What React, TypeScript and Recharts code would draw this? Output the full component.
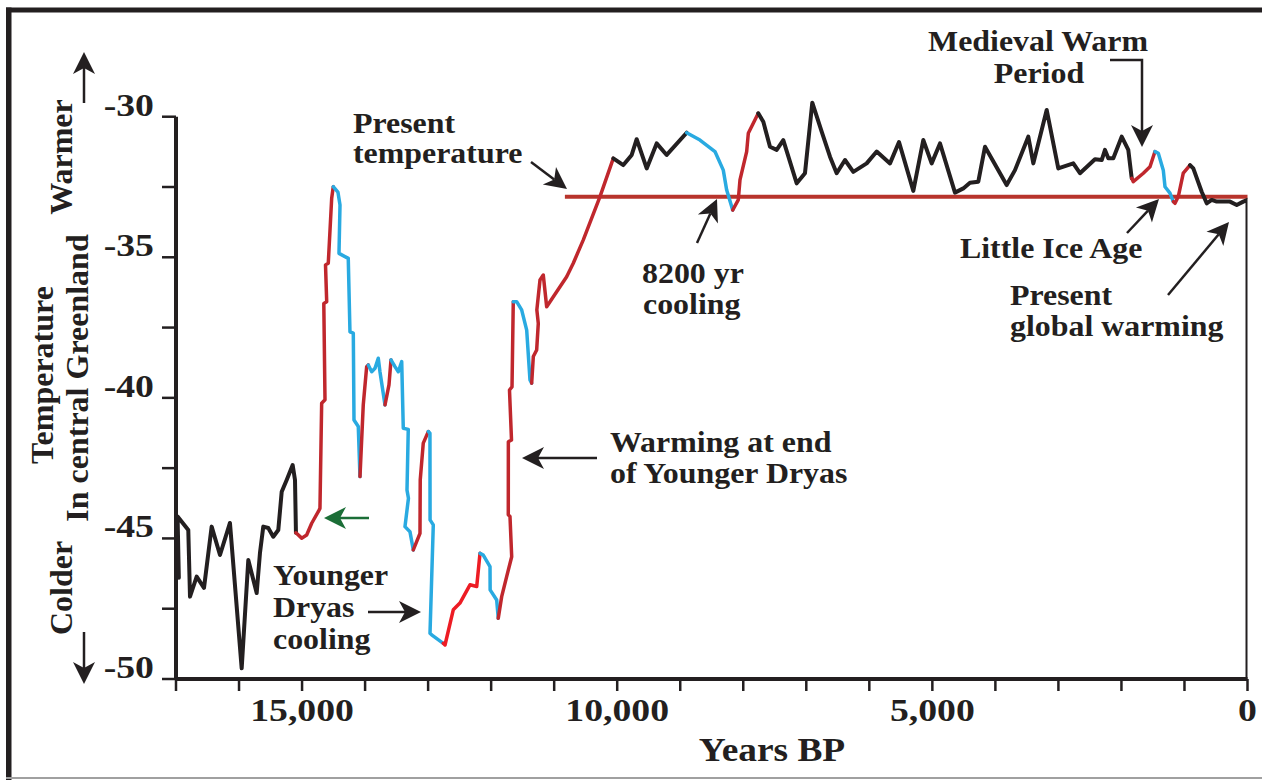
import React from 'react';
import { LineChart, Line, XAxis, YAxis, ReferenceLine } from 'recharts';

// ---------- data (years BP, temperature °C) ----------
const xTicks = [0, 1000, 2000, 3000, 4000, 5000, 6000, 7000, 8000, 9000, 10000, 11000, 12000, 13000, 14000, 15000, 16000, 17000];
const xLabelValues = [15000, 10000, 5000, 0];
const xLabelTexts = ['15,000', '10,000', '5,000', '0'];
const yTicks = [-50, -47.5, -45, -42.5, -40, -37.5, -35, -32.5, -30];
const yLabelValues = [-50, -45, -40, -35, -30];
const yLabelTexts = ['-50', '-45', '-40', '-35', '-30'];
const presentTemperature = -32.85;
const presentLineStart = 10830;

const black1: [number, number][] = [[16955, -46.4], [16975, -44.22], [16805, -44.7], [16778, -47.07], [16672, -46.36], [16556, -46.76], [16434, -44.58], [16302, -45.59], [16144, -44.45], [15958, -49.62], [15853, -45.77], [15720, -46.94], [15668, -45.52], [15615, -44.58], [15536, -44.63], [15457, -44.94], [15377, -44.7], [15323, -43.34], [15244, -42.92], [15149, -42.39], [15112, -42.92], [15097, -44.8]];
const red1: [number, number][] = [[15097, -44.8], [15006, -44.99], [14927, -44.88], [14847, -44.46], [14743, -44.05], [14716, -43.93], [14689, -40.19], [14636, -40.07], [14655, -36.64], [14609, -36.58], [14628, -35.27], [14584, -35.21], [14530, -32.9], [14505, -32.49]];
const blue1: [number, number][] = [[14505, -32.49], [14431, -32.68], [14398, -33.14], [14414, -34.86], [14267, -35.04], [14240, -37.65], [14187, -37.7], [14176, -40.79], [14108, -41.02], [14081, -42.8]];
const red2: [number, number][] = [[14081, -42.8], [14029, -40.25], [13975, -38.89], [13949, -38.83]];
const blue2: [number, number][] = [[13949, -38.83], [13895, -39.07], [13843, -38.95], [13791, -38.59], [13764, -39.07], [13684, -40.25]];
const red3: [number, number][] = [[13684, -40.25], [13621, -39.54], [13589, -38.65]];
const blue3: [number, number][] = [[13589, -38.65], [13526, -38.89], [13473, -39.07], [13419, -38.71], [13394, -41.08], [13315, -41.12], [13335, -43.28], [13312, -43.57], [13367, -44.58], [13288, -44.76], [13235, -45.41]];
const red4: [number, number][] = [[13235, -45.41], [13129, -44.82], [13125, -42.92], [13077, -41.61], [12997, -41.2]];
const blue4: [number, number][] = [[12997, -41.2], [12971, -41.26], [12969, -44.34], [12918, -44.52], [12970, -48.37], [12944, -48.43], [12760, -48.73]];
const brightRed1: [number, number][] = [[12760, -48.73], [12732, -48.79], [12601, -47.54], [12495, -47.3], [12336, -46.65], [12229, -46.71], [12177, -45.53]];
const blue5: [number, number][] = [[12177, -45.53], [12125, -45.59], [12018, -46.0], [12016, -46.83], [11912, -47.19], [11887, -47.84]];
const red5: [number, number][] = [[11887, -47.84], [11833, -47.07], [11754, -46.36], [11674, -45.65], [11701, -44.22], [11728, -44.16], [11727, -41.56], [11677, -41.5], [11709, -39.72], [11669, -39.61], [11649, -36.58]];
const blue6: [number, number][] = [[11649, -36.58], [11595, -36.58], [11516, -36.87], [11436, -37.59], [11384, -39.36], [11357, -39.48]];
const red6: [number, number][] = [[11357, -39.48], [11331, -38.53], [11278, -38.3], [11252, -37.35], [11275, -36.87], [11225, -35.81], [11173, -35.63], [11119, -36.76], [10802, -35.69], [10697, -35.21], [10538, -34.38], [10273, -32.84], [10062, -31.48]];
const black2: [number, number][] = [[10062, -31.48], [9903, -31.72], [9770, -31.36], [9691, -30.8], [9532, -31.84], [9374, -30.95], [9215, -31.36], [8898, -30.57]];
const blue7: [number, number][] = [[8898, -30.57], [8687, -30.83], [8449, -31.24], [8317, -31.9], [8263, -32.61], [8168, -33.32]];
const red7: [number, number][] = [[8168, -33.32], [8079, -32.96], [8052, -32.25], [7946, -31.24], [7920, -30.59], [7762, -29.88]];
const black3: [number, number][] = [[7762, -29.88], [7682, -30.18], [7576, -31.07], [7470, -31.18], [7365, -30.83], [7152, -32.37], [7021, -32.01], [6905, -29.5], [6756, -30.53], [6624, -31.42], [6518, -32.01], [6386, -31.54], [6254, -31.96], [6042, -31.66], [5883, -31.24], [5672, -31.66], [5529, -30.9], [5302, -32.64], [5144, -30.83], [5011, -31.66], [4879, -30.95], [4641, -32.7], [4509, -32.55], [4403, -32.35], [4271, -32.31], [4165, -31.07], [3821, -32.43], [3689, -31.9], [3478, -30.71], [3398, -31.66], [3186, -29.76], [3002, -31.84], [2764, -31.66], [2658, -32.01], [2420, -31.51], [2313, -31.54], [2261, -31.18], [2208, -31.48], [2129, -31.48], [1996, -30.71], [1891, -31.18], [1837, -32.19]];
const red8: [number, number][] = [[1837, -32.19], [1812, -32.31], [1653, -32.01], [1547, -31.78], [1468, -31.24]];
const blue8: [number, number][] = [[1468, -31.24], [1415, -31.3], [1336, -31.9], [1309, -32.49], [1230, -32.72], [1177, -33.02]];
const red9: [number, number][] = [[1177, -33.02], [1150, -33.08], [1098, -32.84], [1019, -32.01], [912, -31.72]];
const black4: [number, number][] = [[912, -31.72], [860, -31.84], [727, -32.67], [647, -33.08], [568, -32.96], [489, -33.02], [278, -33.02], [171, -33.14], [67, -33.02], [0, -32.96], [0, -50]];

// ---------- styles ----------
const INK = '#231f20';
const DARK_RED = '#c0272d';
const BLUE = '#29aae1';
const BRIGHT_RED = '#ed1c24';
const REF_RED = '#b8342c';
const GREEN = '#1b6e37';
const FONT = '"Liberation Serif", "Times New Roman", serif';

const toPts = (a: [number, number][]) => a.map(([year, temp]) => ({ year, temp }));

const segments = [
  { d: black1, c: INK, w: 4 },
  { d: red1, c: DARK_RED, w: 3.5 },
  { d: blue1, c: BLUE, w: 3.5 },
  { d: red2, c: DARK_RED, w: 3.5 },
  { d: blue2, c: BLUE, w: 3.5 },
  { d: red3, c: DARK_RED, w: 3.5 },
  { d: blue3, c: BLUE, w: 3.5 },
  { d: red4, c: DARK_RED, w: 3.5 },
  { d: blue4, c: BLUE, w: 3.5 },
  { d: brightRed1, c: BRIGHT_RED, w: 3.5 },
  { d: blue5, c: BLUE, w: 3.5 },
  { d: red5, c: DARK_RED, w: 3.5 },
  { d: blue6, c: BLUE, w: 3.5 },
  { d: red6, c: DARK_RED, w: 3.5 },
  { d: black2, c: INK, w: 4 },
  { d: blue7, c: BLUE, w: 3.5 },
  { d: red7, c: DARK_RED, w: 3.5 },
  { d: black3, c: INK, w: 4 },
  { d: red8, c: DARK_RED, w: 3.5 },
  { d: blue8, c: BLUE, w: 3.5 },
  { d: red9, c: DARK_RED, w: 3.5 },
  { d: black4, c: INK, w: 4 },
];

function XTick(props: any) {
  const { x, y, payload } = props;
  const i = xLabelValues.indexOf(payload.value);
  if (i < 0) return <g />;
  return (
    <text transform={`translate(${x},${y + 30}) scale(1.18,1)`} textAnchor="middle" fontFamily={FONT} fontWeight="bold" fontSize={32} fill={INK}>
      {xLabelTexts[i]}
    </text>
  );
}

function YTick(props: any) {
  const { x, y, payload } = props;
  const i = yLabelValues.indexOf(payload.value);
  if (i < 0) return <g />;
  return (
    <text transform={`translate(${x - 8},${y - 1}) scale(1.18,1)`} textAnchor="end" fontFamily={FONT} fontWeight="bold" fontSize={32} fill={INK}>
      {yLabelTexts[i]}
    </text>
  );
}

function Arrow({ pts, color = INK, w = 2.5, head = 22, half = 11, notch = 6 }: { pts: number[][]; color?: string; w?: number; head?: number; half?: number; notch?: number }) {
  const n = pts.length;
  const [x2, y2] = pts[n - 1];
  const [x1, y1] = pts[n - 2];
  const L = Math.hypot(x2 - x1, y2 - y1);
  const ux = (x2 - x1) / L, uy = (y2 - y1) / L;
  const nx = -uy, ny = ux;
  const bx = x2 - ux * head, by = y2 - uy * head;
  const kx = x2 - ux * (head - notch), ky = y2 - uy * (head - notch);
  const shaft = [...pts.slice(0, -1), [kx, ky]];
  return (
    <g>
      <polyline points={shaft.map((p) => p.join(',')).join(' ')} fill="none" stroke={color} strokeWidth={w} />
      <polygon points={`${x2},${y2} ${bx + nx * half},${by + ny * half} ${kx},${ky} ${bx - nx * half},${by - ny * half}`} fill={color} />
    </g>
  );
}

function T({ x, y, children, anchor = 'start', size = 29, sx = 1.1 }: any) {
  return (
    <text transform={`translate(${x},${y}) scale(${sx},1)`} textAnchor={anchor} fontFamily={FONT} fontWeight="bold" fontSize={size} fill={INK}>
      {children}
    </text>
  );
}

function R({ x, y, children }: any) {
  return (
    <text transform={`translate(${x},${y}) rotate(-90)`} textAnchor="middle" fontFamily={FONT} fontWeight="bold" fontSize={32} fill={INK}>
      {children}
    </text>
  );
}

export default function App() {
  return (
    <div style={{ position: 'absolute', left: 0, top: 0, width: 1262, height: 780, background: '#fff' }}>
      <style>{'html,body{overflow:hidden}'}</style>
      <LineChart width={1262} height={780} margin={{ top: 88.6, right: 14.5, bottom: 41, left: 76 }}>
        <XAxis
          dataKey="year"
          type="number"
          domain={[0, 17000]}
          reversed
          ticks={xTicks}
          interval={0}
          tick={<XTick />}
          tickSize={12}
          tickMargin={0}
          height={60}
          axisLine={{ stroke: INK, strokeWidth: 4 }}
          tickLine={{ stroke: INK, strokeWidth: 2.5 }}
          allowDataOverflow
        />
        <YAxis
          dataKey="temp"
          type="number"
          domain={[-50, -29]}
          ticks={yTicks}
          interval={0}
          tick={<YTick />}
          tickSize={14}
          tickMargin={0}
          width={100}
          axisLine={false}
          tickLine={{ stroke: INK, strokeWidth: 2.5 }}
          allowDataOverflow
        />
        <ReferenceLine segment={[{ x: 17000, y: -50 }, { x: 17000, y: -30 }]} stroke={INK} strokeWidth={4} />
        <ReferenceLine segment={[{ x: presentLineStart, y: presentTemperature }, { x: 0, y: presentTemperature }]} stroke={REF_RED} strokeWidth={4} />
        {segments.map((s, i) => (
          <Line
            key={i}
            data={toPts(s.d)}
            dataKey="temp"
            type="linear"
            stroke={s.c}
            strokeWidth={s.w}
            strokeLinejoin="round"
            strokeLinecap="round"
            dot={false}
            activeDot={false}
            isAnimationActive={false}
          />
        ))}
      </LineChart>
      <svg width={1262} height={780} style={{ position: 'absolute', left: 0, top: 0, pointerEvents: 'none' }}>
        {/* frame */}
        <rect x={6} y={7.5} width={1256} height={5} fill={INK} />
        <rect x={6} y={7.5} width={5.5} height={772.5} fill={INK} />
        <rect x={6} y={777} width={1256} height={2} fill="#a0a0a0" />

        {/* axis titles */}
        <R x={72} y={157}>Warmer</R>
        <R x={53} y={375}>Temperature</R>
        <R x={88} y={378}>In central Greenland</R>
        <R x={72} y={588}>Colder</R>
        <Arrow pts={[[84, 103], [84, 52]]} />
        <Arrow pts={[[84, 632], [84, 684]]} />
        <T x={772} y={761} anchor="middle" size={34} sx={1.1}>Years BP</T>

        {/* annotations */}
        <T x={353} y={133}>Present</T>
        <T x={353} y={163}>temperature</T>
        <Arrow pts={[[531, 162], [567, 189]]} />

        <T x={642} y={283}>8200 yr</T>
        <T x={643} y={314}>cooling</T>
        <Arrow pts={[[697, 243], [717, 199]]} />

        <T x={610} y={452}>Warming at end</T>
        <T x={610} y={483}>of Younger Dryas</T>
        <Arrow pts={[[597, 458], [522, 458]]} />

        <T x={273} y={585}>Younger</T>
        <T x={273} y={617}>Dryas</T>
        <T x={273} y={649}>cooling</T>
        <Arrow pts={[[368, 612], [421, 612]]} />

        <Arrow pts={[[369, 518], [324, 518]]} color={GREEN} />

        <T x={1038} y={51} anchor="middle">Medieval Warm</T>
        <T x={1039} y={83} anchor="middle">Period</T>
        <Arrow pts={[[1110, 60], [1142, 60], [1142, 147]]} />

        <T x={960} y={258}>Little Ice Age</T>
        <Arrow pts={[[1127, 233], [1159, 199]]} />

        <T x={1010} y={305}>Present</T>
        <T x={1010} y={336}>global warming</T>
        <Arrow pts={[[1168, 295], [1229, 222]]} />
      </svg>
    </div>
  );
}
